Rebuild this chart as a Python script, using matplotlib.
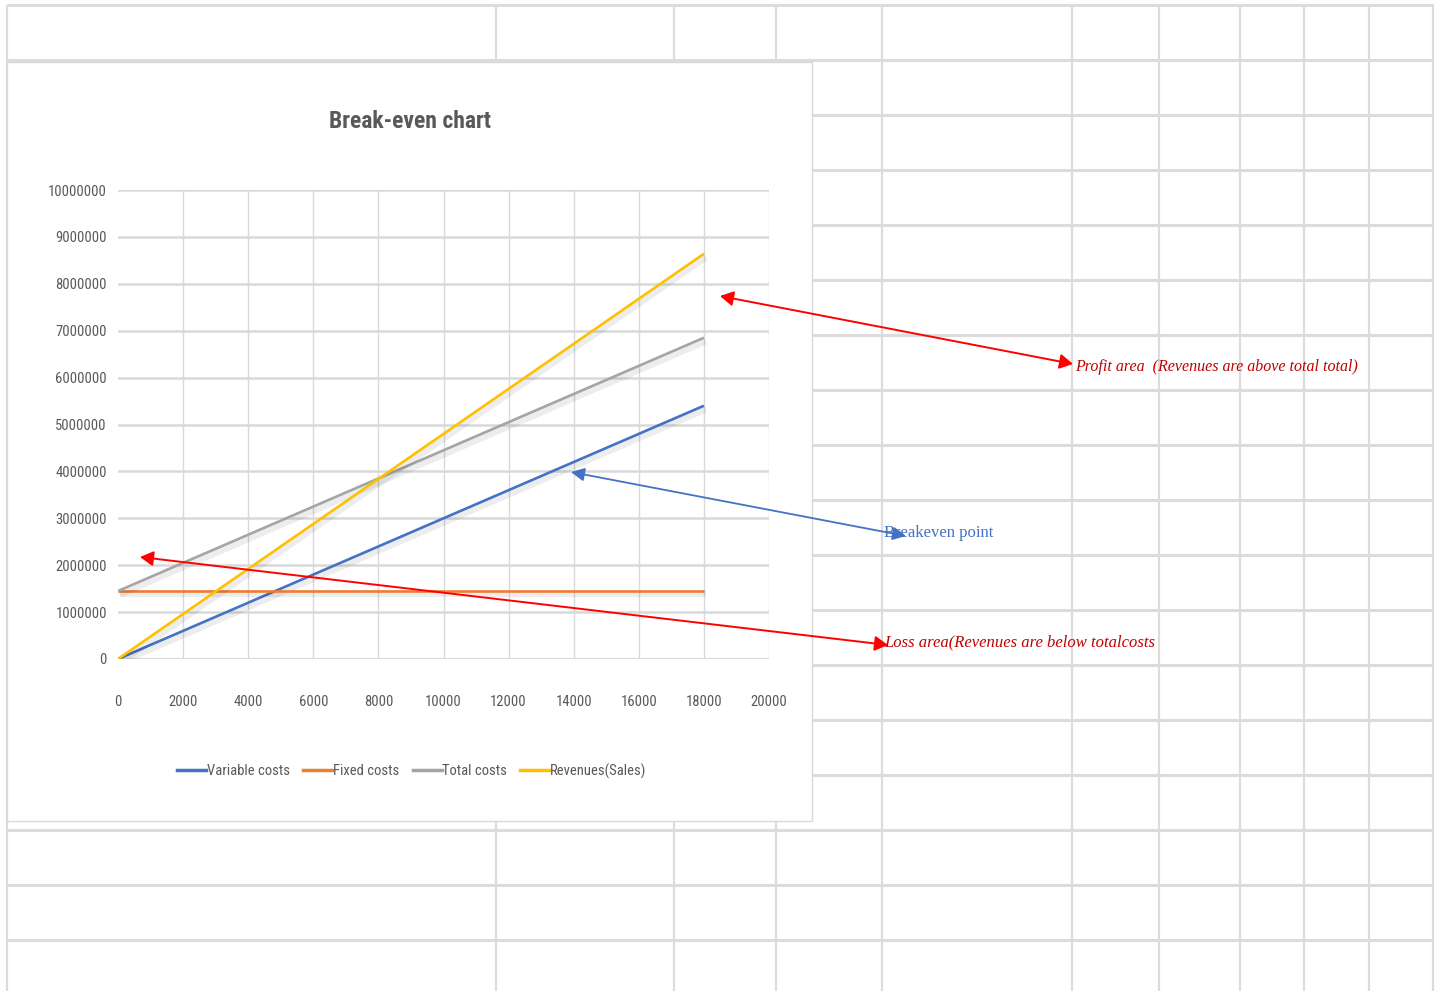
import matplotlib
matplotlib.use("Agg")
import matplotlib.pyplot as plt
import matplotlib.patheffects as pe
from matplotlib.patches import Rectangle
from matplotlib import font_manager

# ---- data -------------------------------------------------------------
units = [0, 2000, 4000, 6000, 8000, 10000, 12000, 14000, 16000, 18000]
variable_costs = [0, 600000, 1200000, 1800000, 2400000, 3000000,
                  3600000, 4200000, 4800000, 5400000]
fixed_costs = [1450000, 1450000, 1450000, 1450000, 1450000, 1450000,
               1450000, 1450000, 1450000, 1450000]
total_costs = [1450000, 2050000, 2650000, 3250000, 3850000, 4450000,
               5050000, 5650000, 6250000, 6850000]
revenues = [0, 960000, 1920000, 2880000, 3840000, 4800000,
            5760000, 6720000, 7680000, 8640000]
series_names = ["Variable costs", "Fixed costs", "Total costs", "Revenues(Sales)"]
series_colors = ["#4472c4", "#ed7d31", "#a5a5a5", "#ffc000"]
x_ticks = [0, 2000, 4000, 6000, 8000, 10000, 12000, 14000, 16000, 18000, 20000]
y_ticks = [0, 1000000, 2000000, 3000000, 4000000, 5000000,
           6000000, 7000000, 8000000, 9000000, 10000000]

# ---- fonts ------------------------------------------------------------
available = {f.name for f in font_manager.fontManager.ttflist}
narrow = [f for f in ["Liberation Sans Narrow", "Roboto Condensed", "Open Sans Condensed"]
          if f in available]
sans = narrow + ["Liberation Sans", "DejaVu Sans"]
serif = ["Liberation Serif", "DejaVu Serif"]
is_narrow = bool(narrow)

W, H = 1442, 991
fig = plt.figure(figsize=(W / 100, H / 100), dpi=100)
fig.patch.set_facecolor("white")


def fx(px):
    return px / W


def fy(py):
    return 1 - py / H


# ---- spreadsheet cell grid behind the chart ---------------------------
bg = fig.add_axes([0, 0, 1, 1], zorder=0)
bg.set_xlim(0, W)
bg.set_ylim(H, 0)
bg.axis("off")
grid_c = "#dcdcdc"
row_lines = [5, 60, 115, 170, 225, 280, 335, 390, 445, 500, 555, 610,
             665, 720, 775, 830, 885, 940]
col_lines = [7, 496, 674, 776, 882, 1072, 1159, 1240, 1304, 1369, 1433]
for y in row_lines:
    bg.plot([7, 1433], [y, y], color=grid_c, lw=2.2, solid_capstyle="butt")
for x in col_lines:
    bg.plot([x, x], [5, H], color=grid_c, lw=1.6, solid_capstyle="butt")

# chart area
bg.add_patch(Rectangle((7, 62), 805, 759, facecolor="white",
                       edgecolor="#d9d9d9", lw=1.0, zorder=5))

# ---- the chart --------------------------------------------------------
tick_size = 10.5 if is_narrow else 9
ax = fig.add_axes([fx(118), fy(659), fx(769) - fx(118), fy(190) - fy(659)], zorder=2)
ax.patch.set_alpha(0)
ax.set_xlim(0, 20000)
ax.set_ylim(0, 10000000)
ax.set_xticks(x_ticks)
ax.set_yticks(y_ticks)
ax.set_xticklabels([str(v) for v in x_ticks])
ax.set_yticklabels([str(v) for v in y_ticks])
for s in ax.spines.values():
    s.set_visible(False)
ax.tick_params(length=0, colors="#595959", labelsize=tick_size)
ax.tick_params(axis="x", pad=26)
ax.tick_params(axis="y", pad=8)
for lab in ax.get_xticklabels() + ax.get_yticklabels():
    lab.set_fontfamily(sans)
ax.set_axisbelow(True)
for yv in y_ticks:
    ax.axhline(yv, color="#d9d9d9", lw=2.2 if yv == 0 else 1.8, zorder=0)
for xv in x_ticks[1:]:
    ax.axvline(xv, color="#d9d9d9", lw=1.0, zorder=0)

shadow = [pe.SimpleLineShadow(offset=(1.5, -2.5), shadow_color="black", alpha=0.07,
                              linewidth=4.5), pe.Normal()]
for vals, name, col in zip([variable_costs, fixed_costs, total_costs, revenues],
                           series_names, series_colors):
    ax.plot(units, vals, color=col, lw=1.9, label=name,
            path_effects=shadow, zorder=3, solid_capstyle="butt")

fig.text(fx(410), fy(122), "Break-even chart", ha="center", va="center",
         fontsize=17 if is_narrow else 14, color="#595959", fontweight="bold",
         family=sans)

leg_handles = [plt.Line2D([], [], color=c, lw=2.5) for c in series_colors]
fig.legend(leg_handles, series_names, loc="center",
           bbox_to_anchor=(fx(412), fy(771)), ncol=4, frameon=False,
           handlelength=2.0, handletextpad=0.05, columnspacing=0.9,
           prop={"family": sans, "size": tick_size},
           labelcolor="#595959")

# ---- annotations ------------------------------------------------------
ov = fig.add_axes([0, 0, 1, 1], zorder=10)
ov.set_xlim(0, W)
ov.set_ylim(H, 0)
ov.axis("off")
ov.patch.set_alpha(0)

arrow_red = dict(arrowstyle="<|-|>,head_length=0.8,head_width=0.45",
                 color="#ff0000", lw=1.4, shrinkA=0, shrinkB=0)
arrow_blue = dict(arrowstyle="<|-|>,head_length=0.8,head_width=0.4",
                  color="#4472c4", lw=1.3, shrinkA=0, shrinkB=0)
ov.annotate("", xy=(720, 296), xytext=(1073, 364), arrowprops=arrow_red)
ov.annotate("", xy=(140, 557), xytext=(888, 645), arrowprops=arrow_red)
ov.annotate("", xy=(571, 472), xytext=(906, 536), arrowprops=arrow_blue)

ov.text(1075, 367, "Profit area  (Revenues are above total total)", ha="left",
        va="center", color="#c00000", fontsize=11.5, style="italic", family=serif)
ov.text(884, 533, "Breakeven point", ha="left", va="center", color="#4472c4",
        fontsize=12, family=serif)
ov.text(884, 642, "Loss area(Revenues are below totalcosts", ha="left",
        va="center", color="#c00000", fontsize=12, style="italic", family=serif)

fig.savefig("out.png", dpi=100, facecolor="white")
